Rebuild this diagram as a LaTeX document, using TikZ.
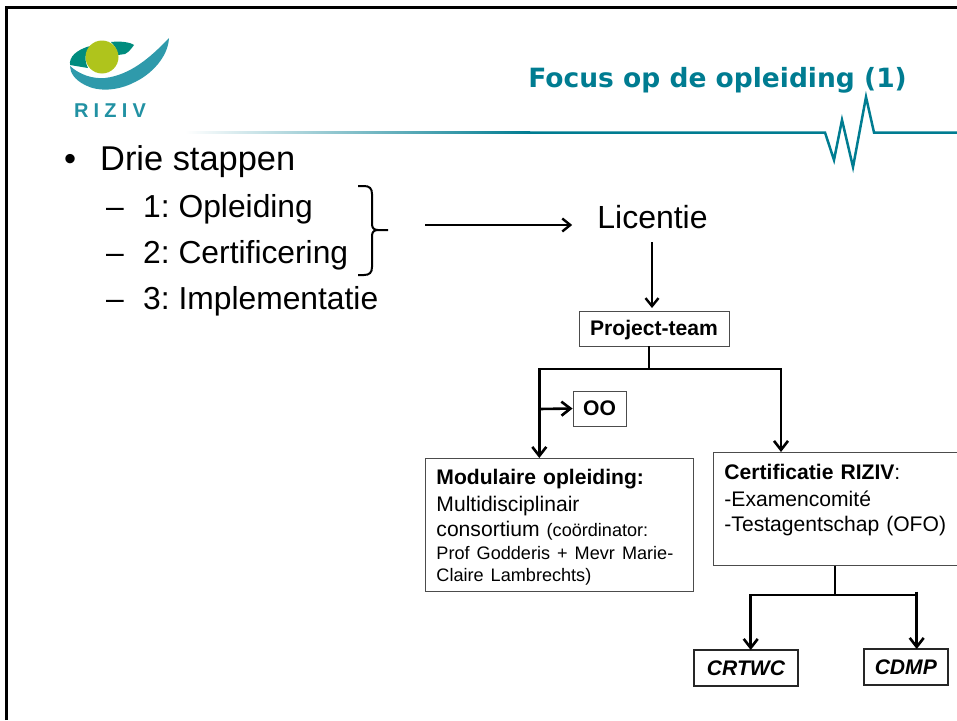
\documentclass[tikz,border=0pt]{standalone}
\usepackage{fontspec}
\setmainfont{Liberation Sans}
\newfontfamily\titlefont{DejaVu Sans}
\usetikzlibrary{arrows.meta}
\frenchspacing
\definecolor{rizivteal}{HTML}{007C91}
\definecolor{swoosh}{HTML}{2F9AAB}
\definecolor{darkeye}{HTML}{008C7E}
\definecolor{lime}{HTML}{AFC41C}
\definecolor{fadeline}{HTML}{C3D2DA}
\begin{document}
\begin{tikzpicture}[
    x=1pt, y=-1pt,
    block/.style={rectangle, draw=black!70, line width=0.9pt, fill=white, inner sep=0pt, font=\fontsize{21.1}{22}\selectfont},
    infobox/.style={block, anchor=north west, align=left, inner xsep=11pt},
    endbox/.style={block, draw=black!85, line width=2.2pt, font=\fontsize{21.1}{22}\selectfont\bfseries\itshape},
    bullet/.style={anchor=base west, inner sep=0pt, font=\fontsize{34.4}{36}\selectfont},
    subitem/.style={anchor=base west, inner sep=0pt, font=\fontsize{31.8}{34}\selectfont},
    arrow/.style={line width=2.6pt, -{Straight Barb[length=9pt, width=14pt, line width=2.6pt]}},
    thinarrow/.style={line width=2.4pt, -{Straight Barb[length=8pt, width=13pt, line width=2.4pt]}},
    branch/.style={line width=2.6pt}
]
    \useasboundingbox (0,0) rectangle (957,720);

    % frame
    \draw [line width=3.5pt] (6.5,720) -- (6.5,7.5) -- (957,7.5);

    % logo
    \fill [darkeye] (90,46) .. controls (76,50) and (69,57) .. (70,65) -- (88,68) .. controls (84,60) and (85,53) .. (90,46);
    \fill [darkeye] (111,42) .. controls (120,41) and (130,42) .. (134,45) .. controls (131,49) and (129,52) .. (125,54) -- (118,55) .. controls (117,49) and (114,45) .. (111,42);
    \fill [swoosh] (70,66) .. controls (80,75) and (93,79) .. (105,78) .. controls (130,75) and (150,58) .. (169,38) .. controls (168,58) and (150,75) .. (135,82) .. controls (118,91) and (98,92) .. (85,85) .. controls (75,80) and (70,73) .. (70,66);
    \fill [lime] (102,57) circle (16.5);
    \node [anchor=base, inner sep=0pt, text=swoosh!70!rizivteal, font=\fontsize{20}{20}\selectfont\bfseries] (logotext) at (110,117) {R\hspace{5.2pt}I\hspace{5.2pt}Z\hspace{5.2pt}I\hspace{5.2pt}V};

    % title and header line
    \node [anchor=base east, inner sep=0pt, text=rizivteal, font=\titlefont\fontsize{26.5}{28}\selectfont\bfseries] (title) at (907,87) {Focus op de opleiding (1)};
    \shade [left color=white, middle color=fadeline, right color=rizivteal] (185,131.2) rectangle (530,133.8);
    \draw [rizivteal, line width=2.5pt, line join=miter] (530,132.5) -- (825,132.5) -- (834,160) -- (842,120) -- (853,167) -- (866,97) -- (874,132.5) -- (957,132.5);

    % bullets
    \node [bullet] (dot) at (64,170) {•};
    \node [bullet] (drie) at (100,170) {Drie stappen};
    \node [subitem] (dash1) at (106,217) {–};
    \node [subitem] (step1) at (143,217) {1: Opleiding};
    \node [subitem] (dash2) at (106,263) {–};
    \node [subitem] (step2) at (143,263) {2: Certificering};
    \node [subitem] (dash3) at (106,309) {–};
    \node [subitem] (step3) at (143,309) {3: Implementatie};

    % brace
    \draw [line width=2pt] (358,186) -- (364,186) .. controls (369.5,186) and (372,188.5) .. (372,194) -- (372,224) .. controls (372,228) and (374,230) .. (378,230) -- (388,230) -- (378,230) .. controls (374,230) and (372,232) .. (372,236) -- (372,267) .. controls (372,272.5) and (369.5,275) .. (364,275) -- (358,275);

    % diagram
    \coordinate (bracetip) at (425,225);
    \node [anchor=base, inner ysep=0pt, inner xsep=25pt, font=\fontsize{32}{34}\selectfont] (licentie) at (652.5,228) {Licentie};
    \node [block, minimum width=150pt, minimum height=35pt, text height=18pt, text depth=3.6pt, font=\fontsize{21.1}{22}\selectfont\bfseries] (team) at (654,328.5) {Project-team};
    \node [block, minimum width=53pt, minimum height=35pt, font=\fontsize{21.1}{22}\selectfont\bfseries] (oo) at (599.5,408.5) {OO};
    \node [infobox, text width=246pt, minimum height=133pt] (modulaire) at (425,458) {\rule{0pt}{20pt}{\bfseries Modulaire opleiding:}\\[5pt]Multidisciplinair\\[3pt]consortium {\fontsize{18.1}{22}\selectfont (coördinator:}\\[1pt]{\fontsize{18.1}{22}\selectfont Prof Godderis + Mevr Marie-}\\{\fontsize{18.1}{22}\selectfont Claire Lambrechts)}};
    \node [infobox, text width=228pt, minimum height=113pt] (certificatie) at (713,452) {{\bfseries Certificatie RIZIV}:\\[5pt]-Examencomité\\[3pt]-Testagentschap (OFO)\\[1pt]\mbox{}};
    \node [endbox, minimum width=104pt, minimum height=36pt] (crtwc) at (746,668) {CRTWC};
    \node [endbox, minimum width=84pt, minimum height=36pt] (cdmp) at (905.8,667) {CDMP};

    % connectors
    \coordinate (teamfork) at (649,369);
    \coordinate (ooleft) at (539.3,409);
    \coordinate (certfork) at (835,595);
    \draw [thinarrow] (bracetip) -- (bracetip -| licentie.west);
    \draw [thinarrow] (652,242) -- (652,308);
    \draw [branch] (team.south -| teamfork) -- (teamfork);
    \draw [arrow] (teamfork) -| (modulaire.north -| ooleft);
    \draw [arrow] (teamfork) -| (781,452);
    \draw [arrow] (ooleft) -- (oo.west);
    \draw [branch] (certificatie.south -| certfork) -- (certfork);
    \draw [arrow] (certfork) -| (750.7,650);
    \draw [arrow] (certfork) -| (916.7,649);
    \draw [branch] (916.7,591.5) -- (916.7,597);
\end{tikzpicture}
\end{document}
